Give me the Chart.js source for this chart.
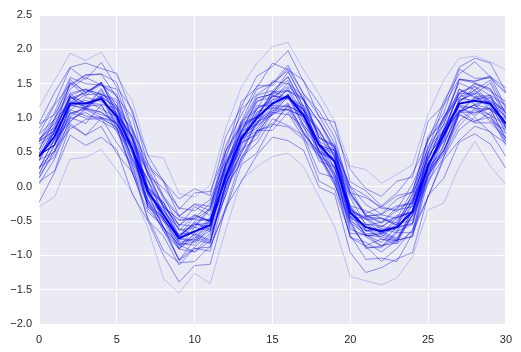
<!DOCTYPE html>
<html>
<head>
<meta charset="utf-8">
<script src="https://cdn.jsdelivr.net/npm/chart.js@4.4.1/dist/chart.umd.min.js"></script>
<style>
  html, body { margin: 0; padding: 0; background: #ffffff; }
  #wrap { width: 521px; height: 352px; }
</style>
</head>
<body>
<div id="wrap"><canvas id="c" width="521" height="352"></canvas></div>
<script>
const xValues = [0,1,2,3,4,5,6,7,8,9,10,11,12,13,14,15,16,17,18,19,20,21,22,23,24,25,26,27,28,29,30];
const xTicks = [0,5,10,15,20,25,30];
const yTicks = [-2.0,-1.5,-1.0,-0.5,0.0,0.5,1.0,1.5,2.0,2.5];

// thick centre line
const meanSeries = [0.44,0.73,1.21,1.21,1.28,1.02,0.55,-0.07,-0.41,-0.75,-0.65,-0.56,0.15,0.70,1.00,1.21,1.32,1.04,0.61,0.36,-0.38,-0.59,-0.65,-0.59,-0.36,0.31,0.75,1.21,1.25,1.21,0.92];

// faint individual series
const sampleA = [0.07,0.23,0.89,0.75,0.88,0.48,0.21,-0.46,-0.93,-1.11,-1.09,-0.87,-0.34,0.32,0.49,0.91,0.87,0.69,0.08,-0.04,-0.71,-1.06,-1.04,-1.09,-0.68,-0.15,0.39,0.67,0.88,0.80,0.44];
const sampleB = [0.04,0.40,0.92,0.75,1.00,0.64,0.31,-0.49,-0.72,-1.14,-0.90,-0.88,-0.30,0.43,0.63,0.99,0.89,0.74,0.20,0.13,-0.74,-0.87,-1.09,-0.90,-0.62,-0.15,0.43,0.83,1.01,0.79,0.63];
const sampleC = [0.12,0.54,0.84,0.98,0.99,0.87,0.20,-0.37,-0.58,-1.08,-0.90,-0.94,-0.05,0.39,0.82,0.82,1.08,0.70,0.45,0.07,-0.74,-0.81,-0.95,-0.78,-0.73,0.08,0.42,1.06,0.93,0.93,0.71];
const sampleD = [0.29,0.51,0.95,1.12,1.01,0.85,0.24,-0.20,-0.65,-0.91,-0.95,-0.79,0.05,0.42,0.82,0.88,1.20,0.79,0.47,0.04,-0.57,-0.86,-0.76,-0.83,-0.65,0.22,0.52,1.04,0.94,1.08,0.66];
const sampleE = [0.19,0.61,1.12,1.03,1.01,0.95,0.34,-0.11,-0.61,-0.90,-0.73,-0.82,0.04,0.48,0.95,1.04,1.22,0.79,0.48,0.08,-0.47,-0.73,-0.87,-0.65,-0.55,0.23,0.48,1.09,1.07,1.14,0.69];
const sampleF = [0.25,0.70,1.07,1.13,1.05,0.98,0.40,-0.09,-0.59,-0.85,-0.70,-0.80,0.06,0.49,0.94,1.08,1.31,0.86,0.54,0.14,-0.42,-0.70,-0.81,-0.59,-0.53,0.28,0.52,1.07,1.20,1.13,0.71];
const sampleG = [0.45,0.61,1.06,1.15,1.31,0.85,0.52,-0.27,-0.45,-0.84,-0.81,-0.54,0.02,0.68,0.81,1.14,1.18,1.05,0.50,0.40,-0.53,-0.69,-0.67,-0.77,-0.41,0.15,0.78,1.09,1.19,1.04,0.91];
const sampleH = [0.47,0.60,1.19,1.13,1.35,0.90,0.54,-0.21,-0.39,-0.81,-0.76,-0.48,0.08,0.75,0.90,1.18,1.17,1.06,0.52,0.42,-0.50,-0.64,-0.65,-0.75,-0.35,0.18,0.82,1.19,1.14,1.13,0.97];
const sampleI = [0.49,0.65,1.31,1.17,1.30,0.90,0.63,-0.04,-0.51,-0.69,-0.67,-0.45,0.08,0.74,0.91,1.33,1.29,1.11,0.50,0.38,-0.29,-0.64,-0.62,-0.67,-0.26,0.27,0.81,1.09,1.30,1.22,0.86];
const sampleJ = [0.38,0.80,1.31,1.22,1.20,1.14,0.53,0.08,-0.42,-0.71,-0.54,-0.63,0.23,0.67,1.14,1.23,1.41,0.98,0.67,0.27,-0.28,-0.54,-0.68,-0.46,-0.36,0.42,0.67,1.28,1.26,1.33,0.88];
const sampleK = [0.44,0.80,1.32,1.15,1.40,1.04,0.71,-0.09,-0.32,-0.74,-0.50,-0.48,0.10,0.83,1.03,1.39,1.29,1.14,0.60,0.53,-0.34,-0.47,-0.69,-0.50,-0.22,0.25,0.83,1.23,1.41,1.19,1.03];
const sampleL = [0.48,0.90,1.20,1.34,1.35,1.23,0.56,-0.01,-0.22,-0.72,-0.54,-0.58,0.31,0.75,1.18,1.18,1.44,1.06,0.81,0.43,-0.38,-0.45,-0.59,-0.42,-0.37,0.44,0.78,1.42,1.29,1.29,1.07];
const sampleM = [0.66,0.82,1.27,1.36,1.52,1.06,0.73,-0.06,-0.24,-0.63,-0.60,-0.33,0.23,0.89,1.02,1.35,1.39,1.26,0.71,0.61,-0.32,-0.48,-0.46,-0.56,-0.20,0.36,0.99,1.30,1.40,1.25,1.12];
const sampleN = [0.54,0.99,1.36,1.42,1.34,1.27,0.69,0.20,-0.30,-0.56,-0.41,-0.51,0.35,0.78,1.23,1.37,1.60,1.15,0.83,0.43,-0.13,-0.41,-0.52,-0.30,-0.24,0.57,0.81,1.36,1.49,1.42,1.00];
const sampleO = [0.70,0.86,1.52,1.38,1.51,1.11,0.84,0.17,-0.30,-0.48,-0.46,-0.24,0.29,0.95,1.12,1.54,1.50,1.32,0.71,0.59,-0.08,-0.43,-0.41,-0.46,-0.05,0.48,1.02,1.30,1.51,1.43,1.07];
const sampleP = [0.76,0.98,1.42,1.59,1.48,1.32,0.71,0.27,-0.18,-0.44,-0.48,-0.32,0.52,0.89,1.29,1.35,1.67,1.26,0.94,0.51,-0.10,-0.39,-0.29,-0.36,-0.18,0.69,0.99,1.51,1.41,1.55,1.13];
const sampleQ = [0.66,1.08,1.59,1.50,1.48,1.42,0.81,0.36,-0.14,-0.43,-0.26,-0.35,0.51,0.95,1.42,1.51,1.69,1.26,0.95,0.55,0.00,-0.26,-0.40,-0.18,-0.08,0.70,0.95,1.56,1.54,1.61,1.16];
const sampleR = [0.77,1.19,1.49,1.63,1.64,1.52,0.85,0.28,0.07,-0.43,-0.25,-0.29,0.60,1.04,1.47,1.47,1.73,1.35,1.10,0.72,-0.09,-0.16,-0.30,-0.13,-0.08,0.73,1.07,1.71,1.58,1.58,1.36];
const sampleS = [0.85,1.21,1.73,1.56,1.81,1.45,1.12,0.32,0.09,-0.33,-0.09,-0.07,0.51,1.24,1.44,1.80,1.70,1.55,1.01,0.94,0.07,-0.06,-0.28,-0.09,0.19,0.66,1.24,1.64,1.82,1.60,1.44];
const sampleV = [0.46,0.60,1.02,1.17,1.19,0.85,0.56,-0.29,-0.47,-0.76,-0.80,-0.64,-0.05,0.68,0.89,1.05,1.32,0.90,0.58,0.18,-0.45,-0.58,-0.77,-0.78,-0.41,0.10,0.73,1.12,1.08,1.15,0.92];
const sampleW = [0.37,0.81,1.35,1.20,1.32,1.14,0.49,0.10,-0.40,-0.79,-0.55,-0.53,0.30,0.67,1.06,1.32,1.27,1.13,0.59,0.49,-0.36,-0.65,-0.58,-0.45,-0.36,0.47,0.72,1.25,1.37,1.22,0.87];
const sampleX = [0.69,0.92,1.29,1.37,1.51,1.06,0.75,-0.01,-0.28,-0.49,-0.47,-0.49,0.37,0.81,1.25,1.30,1.46,1.27,0.66,0.53,-0.28,-0.35,-0.46,-0.56,-0.10,0.39,0.91,1.42,1.31,1.33,1.19];
const sampleY = [0.14,0.49,1.08,1.00,1.00,0.93,0.30,-0.18,-0.59,-1.06,-0.88,-0.68,-0.12,0.54,0.70,1.07,1.13,0.76,0.51,0.14,-0.53,-0.88,-0.89,-0.67,-0.67,0.18,0.54,0.95,1.14,1.04,0.60];
const sampleZ = [0.91,1.05,1.47,1.62,1.64,1.30,1.01,0.16,-0.02,-0.31,-0.35,-0.19,0.40,1.13,1.34,1.50,1.77,1.35,1.03,0.63,0.00,-0.13,-0.32,-0.33,0.04,0.55,1.18,1.57,1.53,1.60,1.37];
const sampleAA = [-0.23,0.21,0.75,0.60,0.72,0.54,-0.11,-0.50,-1.00,-1.39,-1.15,-1.13,-0.30,0.07,0.46,0.72,0.67,0.53,-0.01,-0.11,-0.96,-1.25,-1.18,-1.05,-0.96,-0.13,0.12,0.65,0.77,0.62,0.27];
const sampleAB = [0.92,1.37,1.74,1.80,1.72,1.65,1.07,0.45,0.08,-0.18,-0.03,-0.13,0.73,1.16,1.61,1.75,1.98,1.53,1.21,0.81,0.25,-0.03,-0.14,0.08,0.14,0.95,1.19,1.74,1.87,1.80,1.38];
const sampleN1 = [0.26,0.69,0.95,1.14,1.08,0.91,0.53,-0.30,-0.50,-0.91,-0.68,-0.78,0.02,0.65,0.75,1.11,1.13,1.02,0.44,0.30,-0.62,-0.71,-0.73,-0.80,-0.39,0.16,0.52,1.10,1.19,0.95,0.83];
const sampleN2 = [0.46,0.61,1.17,1.26,1.13,1.01,0.37,-0.06,-0.46,-0.89,-0.59,-0.65,0.19,0.53,0.98,1.10,1.35,0.96,0.61,0.20,-0.32,-0.72,-0.68,-0.60,-0.54,0.34,0.65,1.07,1.30,1.17,0.83];
const sampleN3 = [0.42,0.85,1.11,1.30,1.24,1.07,0.69,-0.14,-0.34,-0.75,-0.52,-0.62,0.18,0.81,0.91,1.27,1.29,1.18,0.60,0.46,-0.46,-0.55,-0.57,-0.64,-0.23,0.32,0.68,1.26,1.35,1.11,0.99];
const sampleN4 = [0.62,0.77,1.33,1.42,1.29,1.17,0.53,0.10,-0.30,-0.73,-0.43,-0.49,0.35,0.69,1.14,1.26,1.51,1.12,0.77,0.36,-0.16,-0.56,-0.52,-0.44,-0.38,0.50,0.81,1.23,1.46,1.33,0.99];
const sampleN5 = [0.66,0.81,1.51,1.32,1.52,1.17,0.61,0.20,-0.28,-0.55,-0.58,-0.30,0.32,0.79,1.29,1.35,1.55,1.10,0.82,0.46,-0.10,-0.43,-0.53,-0.34,-0.29,0.50,1.02,1.36,1.35,1.51,1.05];
const sampleN6 = [0.18,0.61,1.01,0.92,1.19,0.79,0.49,-0.32,-0.60,-0.85,-0.95,-0.71,-0.13,0.63,0.78,1.08,1.05,0.88,0.37,0.28,-0.68,-0.70,-0.86,-0.82,-0.42,0.04,0.61,1.11,0.96,1.01,0.77];
const sampleN7 = [0.65,0.99,1.56,1.37,1.48,1.35,0.67,0.22,-0.14,-0.58,-0.29,-0.42,0.45,0.92,1.33,1.40,1.60,1.17,0.95,0.57,-0.02,-0.43,-0.40,-0.28,-0.24,0.60,0.90,1.56,1.51,1.39,1.24];
const sampleN8 = [0.46,0.61,1.31,1.12,1.32,0.97,0.41,0.00,-0.48,-0.75,-0.78,-0.50,0.12,0.59,1.09,1.15,1.35,0.90,0.62,0.26,-0.30,-0.63,-0.73,-0.54,-0.49,0.30,0.82,1.16,1.15,1.31,0.85];
const sampleN9 = [0.42,0.85,1.25,1.16,1.43,1.03,0.73,-0.08,-0.36,-0.61,-0.71,-0.47,0.11,0.87,1.02,1.32,1.29,1.12,0.61,0.52,-0.44,-0.46,-0.62,-0.58,-0.18,0.28,0.85,1.35,1.20,1.25,1.01];
const sampleN10 = [0.39,0.51,1.19,1.14,1.09,0.91,0.56,-0.24,-0.45,-0.83,-0.85,-0.58,0.02,0.72,0.85,1.15,1.11,1.03,0.52,0.18,-0.37,-0.71,-0.70,-0.78,-0.34,0.24,0.59,1.18,1.03,1.21,0.78];
const sampleN11 = [0.53,0.96,1.22,1.41,1.35,1.18,0.80,-0.03,-0.23,-0.64,-0.41,-0.51,0.29,0.92,1.02,1.38,1.40,1.29,0.71,0.57,-0.35,-0.44,-0.46,-0.53,-0.12,0.43,0.79,1.37,1.46,1.22,1.10];
const sampleN12 = [0.28,0.43,0.99,1.08,0.95,0.83,0.19,-0.24,-0.64,-1.07,-0.77,-0.83,0.01,0.35,0.80,0.92,1.17,0.78,0.43,0.02,-0.50,-0.90,-0.86,-0.78,-0.72,0.16,0.47,0.89,1.12,0.99,0.65];
const sampleHigh = [1.15,1.55,1.94,1.84,1.96,1.60,1.25,0.45,0.42,-0.10,-0.15,0.02,0.85,1.45,1.80,2.04,2.10,1.70,1.35,0.95,0.30,0.25,0.05,0.18,0.32,1.05,1.55,1.87,1.90,1.82,1.70];
const sampleLow = [-0.29,-0.15,0.40,0.43,0.54,0.24,-0.09,-0.60,-1.34,-1.55,-1.26,-1.41,-0.63,0.10,0.29,0.44,0.49,0.29,-0.15,-0.58,-1.31,-1.37,-1.43,-1.33,-1.02,-0.34,-0.24,0.29,0.66,0.30,0.03];

const sampleSeries = [sampleA,sampleB,sampleC,sampleD,sampleE,sampleF,sampleG,sampleH,sampleI,sampleJ,sampleK,sampleL,sampleM,sampleN,sampleO,sampleP,sampleQ,sampleR,sampleS,sampleV,sampleW,sampleX,sampleY,sampleZ,sampleAA,sampleAB,sampleN1,sampleN2,sampleN3,sampleN4,sampleN5,sampleN6,sampleN7,sampleN8,sampleN9,sampleN10,sampleN11,sampleN12];
const outlierSeries = [sampleHigh, sampleLow];

const toPoints = arr => arr.map((v, i) => ({ x: xValues[i], y: v }));

const datasets = sampleSeries.map(s => ({
  data: toPoints(s),
  borderColor: 'rgba(0,0,255,0.42)',
  borderWidth: 1,
  pointRadius: 0,
  tension: 0,
  order: 1
})).concat(outlierSeries.map(s => ({
  data: toPoints(s),
  borderColor: 'rgba(0,0,255,0.2)',
  borderWidth: 1,
  pointRadius: 0,
  tension: 0,
  order: 1
})));
datasets.push({
  data: toPoints(meanSeries),
  borderColor: 'rgb(0,0,255)',
  borderWidth: 2,
  pointRadius: 0,
  tension: 0,
  order: 0
});

const bgPlugin = {
  id: 'bg',
  beforeDraw(chart) {
    const { ctx, chartArea: a } = chart;
    ctx.save();
    ctx.fillStyle = '#ffffff';
    ctx.fillRect(0, 0, chart.width, chart.height);
    ctx.fillStyle = '#EAEAF2';
    ctx.fillRect(a.left, a.top, a.right - a.left, a.bottom - a.top);
    ctx.restore();
  }
};

const fmtY = v => (v < 0 ? '\u2212' : '') + Math.abs(v).toFixed(1);
const tickFont = { family: '"Liberation Sans", Arial, sans-serif', size: 11 };

new Chart(document.getElementById('c'), {
  type: 'line',
  data: { datasets },
  plugins: [bgPlugin],
  options: {
    responsive: false,
    animation: false,
    layout: { padding: { left: 0, right: 14, top: 15, bottom: 0 } },
    plugins: { legend: { display: false }, tooltip: { enabled: false } },
    scales: {
      x: {
        type: 'linear',
        min: xTicks[0],
        max: xTicks[xTicks.length - 1],
        afterBuildTicks: s => { s.ticks = xTicks.map(v => ({ value: v })); },
        afterFit: s => { s.height = 28; },
        grid: { color: '#ffffff', lineWidth: 1, drawTicks: false },
        border: { display: false },
        ticks: { color: '#262626', font: tickFont, padding: 9, maxRotation: 0, callback: v => String(v) }
      },
      y: {
        min: yTicks[0],
        max: yTicks[yTicks.length - 1],
        afterBuildTicks: s => { s.ticks = yTicks.map(v => ({ value: v })); },
        afterFit: s => { s.width = 39; },
        grid: { color: '#ffffff', lineWidth: 1, drawTicks: false },
        border: { display: false },
        ticks: { color: '#262626', font: tickFont, padding: 7, callback: v => fmtY(v) }
      }
    }
  }
});
</script>
</body>
</html>
